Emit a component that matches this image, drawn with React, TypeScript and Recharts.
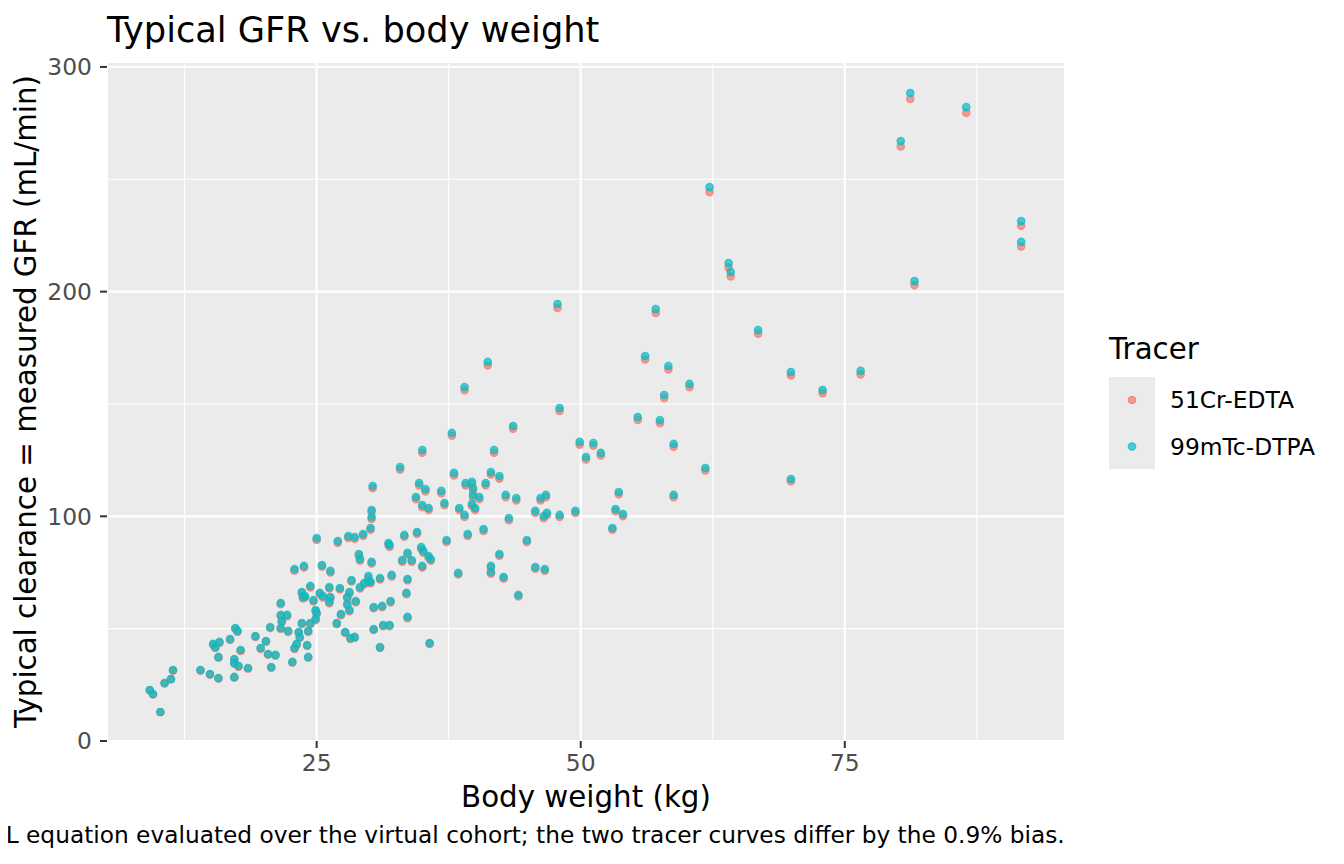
import { ScatterChart, Scatter, XAxis, YAxis, CartesianGrid } from 'recharts';

// body weight (kg), shared by both tracers
const weights = [
  9.2, 9.5, 10.2, 10.6, 11.2, 11.4, 14.0, 14.9, 15.7, 17.2,
  15.2, 15.4, 15.8, 16.8, 17.3, 17.5, 15.7, 17.8, 17.2, 17.2,
  17.6, 18.5, 19.2, 20.2, 19.7, 20.4, 21.1, 20.7, 20.6, 21.6,
  21.6, 22.2, 21.7, 21.6, 22.3, 22.7, 22.9, 23.1, 23.3, 23.4,
  24.2, 24.1, 24.2, 23.6, 24.4, 24.9, 24.9, 25.0, 24.7, 23.7,
  23.6, 23.9, 24.4, 25.3, 25.6, 26.2, 26.2, 25.0, 27.0, 28.0,
  28.6, 29.4, 30.1, 30.2, 33.3, 34.5, 37.3, 31.8, 31.9, 29.0,
  29.1, 30.2, 33.6, 33.1, 34.0, 34.9, 35.1, 35.6, 35.8, 35.0,
  38.4, 22.9, 23.8, 25.5, 26.3, 28.3, 29.9, 29.9, 29.5, 29.1,
  30.1, 31.0, 32.1, 33.6, 33.5, 32.0, 31.2, 30.4, 28.7, 28.1,
  27.9, 27.9, 28.1, 27.2, 27.3, 26.3, 33.6, 26.9, 27.7, 28.2,
  28.6, 30.4, 31.3, 31.9, 31.0, 35.7, 43.6, 37.8, 35.0, 41.8,
  32.9, 38.0, 41.5, 42.3, 34.7, 35.3, 39.1, 39.7, 39.8, 41.0,
  36.8, 30.3, 34.4, 37.1, 35.0, 35.6, 39.8, 40.4, 39.7, 40.0,
  38.5, 39.0, 42.9, 43.9, 46.2, 46.7, 45.7, 46.5, 46.8, 43.2,
  30.2, 39.3, 40.8, 44.9, 42.3, 41.2, 39.0, 48.0, 48.0, 49.5,
  41.5, 41.5, 42.7, 45.7, 46.6, 44.1, 57.1, 56.1, 58.3, 60.3,
  57.9, 66.8, 55.4, 57.5, 51.2, 51.9, 58.8, 61.8, 53.6, 58.8,
  53.3, 54.0, 53.0, 50.5, 49.9, 47.8, 62.2, 64.0, 64.2,
  69.9, 69.9, 72.9, 76.5, 80.3, 81.2, 81.6, 86.5, 91.7, 91.7,
];

// typical clearance with 51Cr-EDTA (mL/min)
const edta = [
  22.5, 20.7, 12.8, 25.6, 27.4, 31.3, 31.3, 29.5, 27.8, 28.2,
  42.8, 41.4, 43.7, 45.0, 49.9, 48.6, 37.1, 40.1, 36.2, 34.4,
  33.1, 32.2, 46.3, 44.1, 41.0, 38.4, 38.0, 32.6, 50.3, 60.9,
  55.6, 55.6, 52.9, 49.9, 48.6, 34.9, 41.0, 42.8, 48.1, 45.9,
  48.6, 42.3, 37.1, 52.0, 52.0, 53.8, 57.8, 56.5, 62.1, 63.5,
  65.7, 63.9, 68.4, 65.3, 63.9, 67.9, 61.3, 89.5, 88.2, 90.4,
  90.0, 91.3, 94.0, 98.8, 90.9, 92.2, 88.6, 87.3, 86.4, 82.5,
  80.3, 79.0, 83.0, 79.8, 79.8, 85.5, 83.8, 81.6, 80.3, 77.2,
  74.1, 75.8, 77.2, 77.6, 75.0, 71.0, 72.7, 70.6, 69.7, 67.9,
  70.2, 71.9, 73.2, 71.5, 65.3, 61.7, 59.6, 59.1, 61.7, 65.7,
  63.5, 60.5, 57.8, 67.5, 56.0, 63.5, 54.7, 52.0, 48.1, 45.4,
  45.9, 49.4, 51.1, 51.1, 41.4, 43.2, 139.0, 135.9, 128.3, 128.3,
  120.8, 118.2, 118.6, 116.8, 113.8, 111.1, 113.8, 114.3, 111.6, 113.8,
  110.3, 112.5, 107.6, 105.0, 104.1, 102.8, 108.5, 107.6, 104.6, 102.8,
  102.8, 99.7, 108.5, 107.1, 107.1, 108.5, 101.5, 99.2, 100.6, 98.3,
  101.9, 91.3, 93.5, 88.6, 82.5, 167.2, 156.1, 146.9, 99.7, 101.5,
  77.2, 74.5, 72.3, 76.7, 75.8, 64.4, 190.5, 169.8, 165.4, 157.5,
  152.6, 181.3, 142.9, 141.5, 131.4, 127.1, 131.0, 120.4, 109.8, 108.5,
  102.3, 100.1, 94.0, 125.3, 131.9, 192.8, 244.3, 210.8, 206.8,
  162.7, 115.6, 154.8, 163.2, 264.6, 285.8, 202.9, 279.6, 229.3, 220.1,
];

// typical clearance with 99mTc-DTPA (mL/min)
const dtpa = [
  22.7, 20.9, 12.9, 25.8, 27.6, 31.6, 31.6, 29.8, 28.0, 28.5,
  43.2, 41.8, 44.1, 45.4, 50.3, 49.0, 37.4, 40.5, 36.5, 34.7,
  33.4, 32.5, 46.7, 44.5, 41.4, 38.7, 38.3, 32.9, 50.7, 61.4,
  56.1, 56.1, 53.4, 50.3, 49.0, 35.2, 41.4, 43.2, 48.5, 46.3,
  49.0, 42.7, 37.4, 52.5, 52.5, 54.3, 58.3, 57.0, 62.7, 64.1,
  66.3, 64.5, 69.0, 65.9, 64.5, 68.5, 61.9, 90.3, 89.0, 91.2,
  90.8, 92.1, 94.8, 99.7, 91.7, 93.0, 89.4, 88.1, 87.2, 83.2,
  81.0, 79.7, 83.7, 80.5, 80.5, 86.3, 84.6, 82.3, 81.0, 77.9,
  74.8, 76.5, 77.9, 78.3, 75.7, 71.6, 73.4, 71.2, 70.3, 68.5,
  70.8, 72.5, 73.9, 72.1, 65.9, 62.3, 60.1, 59.6, 62.3, 66.3,
  64.1, 61.0, 58.3, 68.1, 56.5, 64.1, 55.2, 52.5, 48.5, 45.8,
  46.3, 49.8, 51.6, 51.6, 41.8, 43.6, 140.2, 137.1, 129.5, 129.5,
  121.9, 119.3, 119.7, 117.9, 114.8, 112.1, 114.8, 115.3, 112.6, 114.8,
  111.3, 113.5, 108.6, 105.9, 105.0, 103.7, 109.5, 108.6, 105.5, 103.7,
  103.7, 100.6, 109.5, 108.1, 108.1, 109.5, 102.4, 100.1, 101.5, 99.2,
  102.8, 92.1, 94.3, 89.4, 83.2, 168.7, 157.5, 148.2, 100.6, 102.4,
  77.9, 75.2, 73.0, 77.4, 76.5, 65.0, 192.2, 171.3, 166.9, 158.9,
  154.0, 182.9, 144.2, 142.8, 132.6, 128.2, 132.2, 121.5, 110.8, 109.5,
  103.2, 101.0, 94.8, 126.4, 133.1, 194.5, 246.5, 212.7, 208.7,
  164.2, 116.6, 156.2, 164.7, 267.0, 288.4, 204.7, 282.1, 231.4, 222.1,
];

const xTicks = [25, 50, 75];
const xMinor = [12.5, 37.5, 62.5, 87.5];
const yTicks = [0, 100, 200, 300];
const yMinor = [50, 150, 250];

const tracers = [
  { name: '51Cr-EDTA', color: '#F8766D', values: edta },
  { name: '99mTc-DTPA', color: '#00BFC4', values: dtpa },
];

const FONT = 'DejaVu Sans';
const X_DOMAIN = [5.15, 95.85];
const Y_DOMAIN = [0, 302.2];

const dot = (color: string) => (props: any) => (
  <circle
    cx={props.cx}
    cy={props.cy}
    r={3.7}
    fill={color}
    fillOpacity={0.7}
    stroke={color}
    strokeOpacity={0.7}
    strokeWidth={1.3}
  />
);

export default function App() {
  const tickStyle = { fill: '#4D4D4D', fontSize: 23.4, fontFamily: FONT };

  return (
    <div style={{ position: 'relative', width: 1328, height: 848, fontFamily: FONT }}>
      <ScatterChart width={1328} height={848} margin={{ top: 54, right: 271, left: 39, bottom: 75 }}>
        <XAxis xAxisId="minor" type="number" dataKey="x" domain={X_DOMAIN} ticks={xMinor} allowDataOverflow hide />
        <YAxis yAxisId="minor" type="number" dataKey="y" domain={Y_DOMAIN} ticks={yMinor} allowDataOverflow hide />
        <CartesianGrid xAxisId="minor" yAxisId="minor" fill="#EBEBEB" fillOpacity={1} stroke="#FFFFFF" strokeWidth={1.1} />
        <CartesianGrid stroke="#FFFFFF" strokeWidth={2.2} />
        <XAxis
          type="number"
          dataKey="x"
          domain={X_DOMAIN}
          ticks={xTicks}
          allowDataOverflow
          height={40}
          axisLine={false}
          tickLine={{ stroke: '#333333', strokeWidth: 2 }}
          tickSize={7}
          tickMargin={6}
          tick={tickStyle}
        />
        <YAxis
          type="number"
          dataKey="y"
          domain={Y_DOMAIN}
          ticks={yTicks}
          allowDataOverflow
          width={60}
          axisLine={false}
          tickLine={{ stroke: '#333333', strokeWidth: 2 }}
          tickSize={7}
          tickMargin={8}
          tick={tickStyle}
        />
        {tracers.map((t) => (
          <Scatter
            key={t.name}
            name={t.name}
            data={weights.map((w, i) => ({ x: w, y: t.values[i] }))}
            fill={t.color}
            shape={dot(t.color)}
            isAnimationActive={false}
          />
        ))}
      </ScatterChart>

      <svg
        width={1328}
        height={848}
        style={{ position: 'absolute', left: 0, top: 0, overflow: 'visible', pointerEvents: 'none' }}
        fontFamily={FONT}
      >
        <text x={99} y={33.5} fontSize={35.2} fill="#000">Typical GFR vs. body weight</text>
        <text x={578} y={799} fontSize={29.3} fill="#000" textAnchor="middle">Body weight (kg)</text>
        <text
          x={0}
          y={0}
          fontSize={29.3}
          fill="#000"
          textAnchor="middle"
          transform="translate(28 393.5) rotate(-90)"
        >
          Typical clearance = measured GFR (mL/min)
        </text>
        <text x={1056.7} y={835} fontSize={23.27} fill="#000" textAnchor="end">
          L equation evaluated over the virtual cohort; the two tracer curves differ by the 0.9% bias.
        </text>

        <text x={1101} y={351} fontSize={29.3} fill="#000">Tracer</text>
        {tracers.map((t, i) => (
          <g key={t.name}>
            <rect x={1101} y={369 + i * 46} width={46} height={46} fill="#EBEBEB" />
            <circle
              cx={1124}
              cy={392 + i * 46.5}
              r={3.7}
              fill={t.color}
              fillOpacity={0.7}
              stroke={t.color}
              strokeOpacity={0.7}
              strokeWidth={1.3}
            />
            <text x={1162} y={400 + i * 47} fontSize={23.4} fill="#000">{t.name}</text>
          </g>
        ))}
      </svg>
    </div>
  );
}
